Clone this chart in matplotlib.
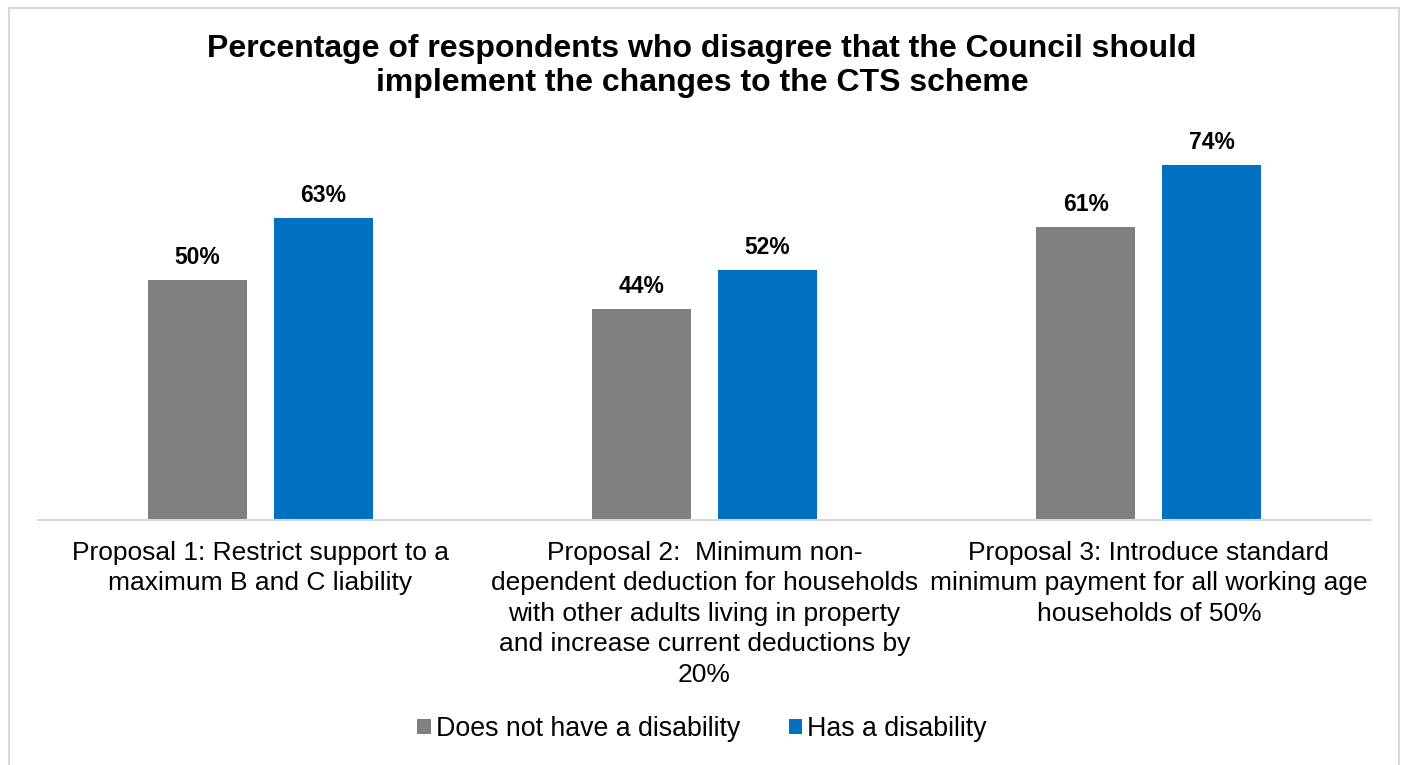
import matplotlib.pyplot as plt
import numpy as np
from matplotlib.patches import Rectangle

plt.rcParams['font.family'] = ['Liberation Sans', 'DejaVu Sans']

proposals = [
    'Proposal 1: Restrict support to a\nmaximum B and C liability',
    'Proposal 2:  Minimum non-\ndependent deduction for households\n'
    'with other adults living in property\nand increase current deductions by\n20%',
    'Proposal 3: Introduce standard\nminimum payment for all working age\n'
    'households of 50%',
]
series = ['Does not have a disability', 'Has a disability']
no_disability = [50, 44, 61]
has_disability = [63, 52, 74]
colors = ['#808080', '#0070C0']

W, H = 1404, 765
fig = plt.figure(figsize=(W / 100, H / 100), dpi=100)
ax = fig.add_axes([38 / W, (H - 520) / H, (1371 - 38) / W, (520 - 136) / H])

x = np.arange(len(proposals))
width = 0.223
offset = 0.142
for vals, off, c, lab in [(no_disability, -offset, colors[0], series[0]),
                          (has_disability, offset, colors[1], series[1])]:
    bars = ax.bar(x + off, vals, width, color=c, label=lab)
    for b, v in zip(bars, vals):
        ax.text(b.get_x() + b.get_width() / 2, v + 2.3, f'{v}%',
                ha='center', va='bottom', fontsize=16.5, fontweight='bold')

ax.set_xlim(-0.5, 2.5)
ax.set_ylim(0, 80)
ax.set_yticks([])
ax.set_xticks(x)
ax.set_xticklabels(proposals, fontsize=19, linespacing=1.34)
ax.tick_params(axis='x', length=0, pad=15)
for s in ['top', 'right', 'left']:
    ax.spines[s].set_visible(False)
ax.spines['bottom'].set_color('#D9D9D9')
ax.spines['bottom'].set_linewidth(1.5)

fig.text(0.5, 1 - 66 / H,
         'Percentage of respondents who disagree that the Council should\n'
         'implement the changes to the CTS scheme',
         ha='center', va='center', fontsize=23, fontweight='bold',
         linespacing=1.16)

fig.legend(loc='center', bbox_to_anchor=(0.5, 1 - 729 / H), ncol=2,
           frameon=False, fontsize=19.3, handlelength=0.5, handleheight=0.5,
           handletextpad=0.2, columnspacing=1.8)

fig.patches.append(Rectangle((9 / W, -0.05), (1399 - 9) / W, 1.05 - 8 / H,
                             transform=fig.transFigure, fill=False,
                             edgecolor='#D9D9D9', linewidth=1.5))

fig.savefig('out.png', dpi=100)
